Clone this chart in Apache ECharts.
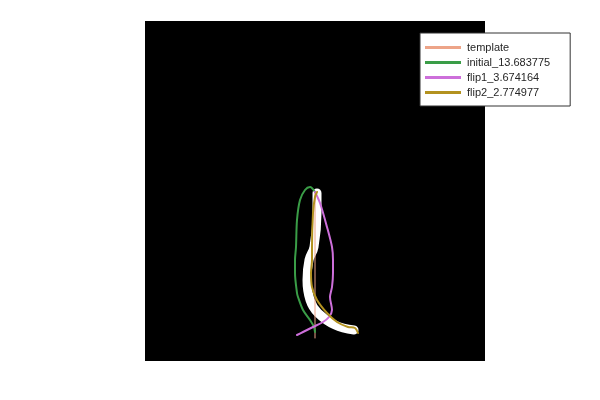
<!DOCTYPE html>
<html>
<head>
<meta charset="utf-8">
<script src="https://cdn.jsdelivr.net/npm/echarts@6/dist/echarts.min.js"></script>
<style>
  html, body { margin: 0; padding: 0; background: #fff; }
  #chart { width: 600px; height: 400px; }
</style>
</head>
<body>
<div id="chart"></div>
<script>
// shape outlines (x, y in plot units)
const bandPts = [[172,168],[172,148],[169,114],[164,101],[162,81],[165,61],[173,48],[190,36],[209,31]];
const templatePts = [[170,168],[170,23]];
const initialPts = [[170,29],[169,34],[165,41],[158,51],[153,64],[152,68],[150,88],[150,101],[151,114],[152,141],[155,161],[160,171],[165,174],[170,169]];
const flip1Pts = [[170,169],[175,158],[182,134],[187,114],[188,101],[188,88],[187,74],[185,64],[187,51],[184,44],[178,39],[168,34],[158,29],[152,26]];
const flip2Pts = [[172,169],[170,164],[168,148],[167,114],[167,101],[166,88],[167,74],[172,61],[182,48],[192,39],[203,34],[210,33],[213,28]];

const names = ['template', 'initial_13.683775', 'flip1_3.674164', 'flip2_2.774977'];

const chart = echarts.init(document.getElementById('chart'));

const line = (name, data, color, width, smooth) => ({
  name, type: 'line', data, smooth,
  showSymbol: false, symbol: 'none',
  lineStyle: { color, width, cap: 'round' },
  itemStyle: { color },
  animation: false
});

chart.setOption({
  backgroundColor: '#fff',
  animation: false,
  grid: { left: 145, top: 21, width: 340, height: 340, show: true, backgroundColor: '#000', borderWidth: 0 },
  xAxis: { type: 'value', min: 0, max: 340, show: false },
  yAxis: { type: 'value', min: 0, max: 340, show: false },
  legend: {
    data: names,
    orient: 'vertical',
    left: 420, top: 33,
    padding: [7, 20, 6, 5],
    itemGap: 0,
    itemWidth: 36, itemHeight: 3,
    icon: 'rect',
    backgroundColor: '#fff',
    borderColor: '#333',
    borderWidth: 1,
    borderRadius: 0,
    textStyle: { fontFamily: 'Liberation Sans', fontSize: 11, color: '#262626', lineHeight: 15, padding: [0, 0, 0, 1] }
  },
  series: [
    line('band', bandPts, '#fff', 9, 0.4),
    line(names[0], templatePts, '#eda488', 1, false),
    line(names[1], initialPts, '#3a9d47', 2, 0.3),
    line(names[2], flip1Pts, '#cd6fda', 2, 0.3),
    line(names[3], flip2Pts, '#b3921f', 2, 0.3)
  ]
});
</script>
</body>
</html>
